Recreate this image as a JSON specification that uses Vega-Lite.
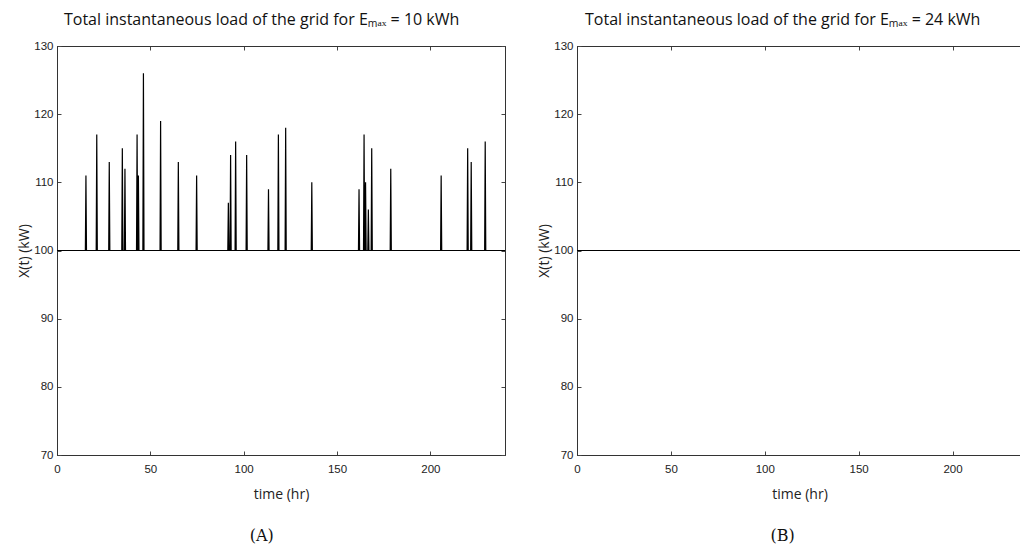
{
  "$schema": "https://vega.github.io/schema/vega-lite/v6.json",
  "background": "white",
  "padding": {"left": 17, "top": 11, "right": 0, "bottom": 0},
  "spacing": 31,
  "datasets": {
    "loadA": [
      {"t":0,"kw":100},
      {"t":15.2,"kw":100},{"t":15.5,"kw":111},{"t":15.8,"kw":100},
      {"t":21.0,"kw":100},{"t":21.3,"kw":117},{"t":21.6,"kw":100},
      {"t":27.7,"kw":100},{"t":28.0,"kw":113},{"t":28.3,"kw":100},
      {"t":34.7,"kw":100},{"t":35.0,"kw":115},{"t":35.3,"kw":100},
      {"t":36.1,"kw":100},{"t":36.4,"kw":112},{"t":36.7,"kw":100},
      {"t":42.6,"kw":100},{"t":42.9,"kw":117},{"t":43.2,"kw":100},
      {"t":43.3,"kw":100},{"t":43.6,"kw":111},{"t":43.9,"kw":100},
      {"t":46.0,"kw":100},{"t":46.3,"kw":126},{"t":46.6,"kw":100},
      {"t":55.2,"kw":100},{"t":55.5,"kw":119},{"t":55.8,"kw":100},
      {"t":64.7,"kw":100},{"t":65.0,"kw":113},{"t":65.3,"kw":100},
      {"t":74.5,"kw":100},{"t":74.8,"kw":111},{"t":75.1,"kw":100},
      {"t":91.5,"kw":100},{"t":91.8,"kw":107},{"t":92.1,"kw":100},
      {"t":92.7,"kw":100},{"t":93.0,"kw":114},{"t":93.3,"kw":100},
      {"t":95.4,"kw":100},{"t":95.7,"kw":116},{"t":96.0,"kw":100},
      {"t":101.3,"kw":100},{"t":101.6,"kw":114},{"t":101.9,"kw":100},
      {"t":113.0,"kw":100},{"t":113.3,"kw":109},{"t":113.6,"kw":100},
      {"t":118.3,"kw":100},{"t":118.6,"kw":117},{"t":118.9,"kw":100},
      {"t":122.2,"kw":100},{"t":122.5,"kw":118},{"t":122.8,"kw":100},
      {"t":136.2,"kw":100},{"t":136.5,"kw":110},{"t":136.8,"kw":100},
      {"t":161.5,"kw":100},{"t":161.8,"kw":109},{"t":162.1,"kw":100},
      {"t":164.2,"kw":100},{"t":164.5,"kw":117},{"t":164.8,"kw":100},
      {"t":165.0,"kw":100},{"t":165.3,"kw":110},{"t":165.6,"kw":100},
      {"t":166.5,"kw":100},{"t":166.8,"kw":106},{"t":167.1,"kw":100},
      {"t":168.3,"kw":100},{"t":168.6,"kw":115},{"t":168.9,"kw":100},
      {"t":178.5,"kw":100},{"t":178.8,"kw":112},{"t":179.1,"kw":100},
      {"t":205.5,"kw":100},{"t":205.8,"kw":111},{"t":206.1,"kw":100},
      {"t":219.7,"kw":100},{"t":220.0,"kw":115},{"t":220.3,"kw":100},
      {"t":221.6,"kw":100},{"t":221.9,"kw":113},{"t":222.2,"kw":100},
      {"t":229.1,"kw":100},{"t":229.4,"kw":116},{"t":229.7,"kw":100},
      {"t":240,"kw":100}
    ],
    "loadB": [
      {"t":0,"kw":100},
      {"t":240,"kw":100}
    ]
  },
  "hconcat": [
    {
      "title": {"text": "(A)", "orient": "bottom", "font": "DejaVu Serif", "fontSize": 16, "fontWeight": "normal", "color": "#111", "offset": 26, "frame": "bounds", "anchor": "middle"},
      "vconcat": [
        {
          "width": 448,
          "height": 409,
          "title": {"text": "Total instantaneous load of the grid for Eₘₐₓ = 10 kWh", "font": "Open Sans", "fontSize": 16, "fontWeight": "normal", "color": "#111", "frame": "bounds", "anchor": "middle", "offset": 12},
          "data": {"name": "loadA"},
          "layer": [
            {
              "mark": {"type": "line", "color": "black", "strokeWidth": 1.2, "clip": true},
              "encoding": {
                "x": {"field": "t", "type": "quantitative", "scale": {"domain": [0, 240], "nice": false, "zero": false},
                      "axis": {"orient": "bottom", "values": [0, 50, 100, 150, 200], "title": "time (hr)", "tickSize": -4, "labelPadding": 12, "titlePadding": 13}},
                "y": {"field": "kw", "type": "quantitative", "scale": {"domain": [70, 130], "nice": false, "zero": false},
                      "axis": {"orient": "left", "values": [70, 80, 90, 100, 110, 120, 130], "title": "X(t)  (kW)", "tickSize": -4, "labelPadding": 8, "titlePadding": 2}}
              }
            },
            {
              "mark": {"type": "line", "opacity": 0},
              "encoding": {
                "x": {"field": "t", "type": "quantitative", "scale": {"domain": [0, 240], "nice": false, "zero": false},
                      "axis": {"orient": "top", "values": [0, 50, 100, 150, 200], "labels": false, "title": null, "tickSize": -4}},
                "y": {"field": "kw", "type": "quantitative", "scale": {"domain": [70, 130], "nice": false, "zero": false},
                      "axis": {"orient": "right", "values": [70, 80, 90, 100, 110, 120, 130], "labels": false, "title": null, "tickSize": -4}}
              }
            }
          ],
          "resolve": {"axis": {"x": "independent", "y": "independent"}}
        }
      ]
    },
    {
      "title": {"text": "(B)", "orient": "bottom", "font": "DejaVu Serif", "fontSize": 16, "fontWeight": "normal", "color": "#111", "offset": 26, "frame": "bounds", "anchor": "middle"},
      "vconcat": [
        {
          "width": 445,
          "height": 409,
          "title": {"text": "Total instantaneous load of the grid for Eₘₐₓ = 24 kWh", "font": "Open Sans", "fontSize": 16, "fontWeight": "normal", "color": "#111", "frame": "bounds", "anchor": "middle", "offset": 12},
          "data": {"name": "loadB"},
          "layer": [
            {
              "mark": {"type": "line", "color": "black", "strokeWidth": 1.2, "clip": true},
              "encoding": {
                "x": {"field": "t", "type": "quantitative", "scale": {"domain": [0, 237], "nice": false, "zero": false},
                      "axis": {"orient": "bottom", "values": [0, 50, 100, 150, 200], "title": "time (hr)", "tickSize": -4, "labelPadding": 12, "titlePadding": 13}},
                "y": {"field": "kw", "type": "quantitative", "scale": {"domain": [70, 130], "nice": false, "zero": false},
                      "axis": {"orient": "left", "values": [70, 80, 90, 100, 110, 120, 130], "title": "X(t)  (kW)", "tickSize": -4, "labelPadding": 8, "titlePadding": 2}}
              }
            },
            {
              "mark": {"type": "line", "opacity": 0},
              "encoding": {
                "x": {"field": "t", "type": "quantitative", "scale": {"domain": [0, 237], "nice": false, "zero": false},
                      "axis": {"orient": "top", "values": [0, 50, 100, 150, 200], "labels": false, "title": null, "tickSize": -4}}
              }
            }
          ],
          "resolve": {"axis": {"x": "independent", "y": "independent"}}
        }
      ]
    }
  ],
  "config": {
    "view": {"stroke": "#333", "strokeWidth": 1},
    "axis": {
      "grid": false,
      "domainColor": "#333",
      "tickColor": "#444",
      "labelColor": "#222",
      "labelFont": "Liberation Sans",
      "labelFontSize": 11.5,
      "titleFont": "Open Sans",
      "titleFontSize": 14,
      "titleFontWeight": "normal",
      "titleColor": "#222",
      "labelFlush": false,
      "labelOverlap": false
    },
    "concat": {"spacing": 31}
  }
}
